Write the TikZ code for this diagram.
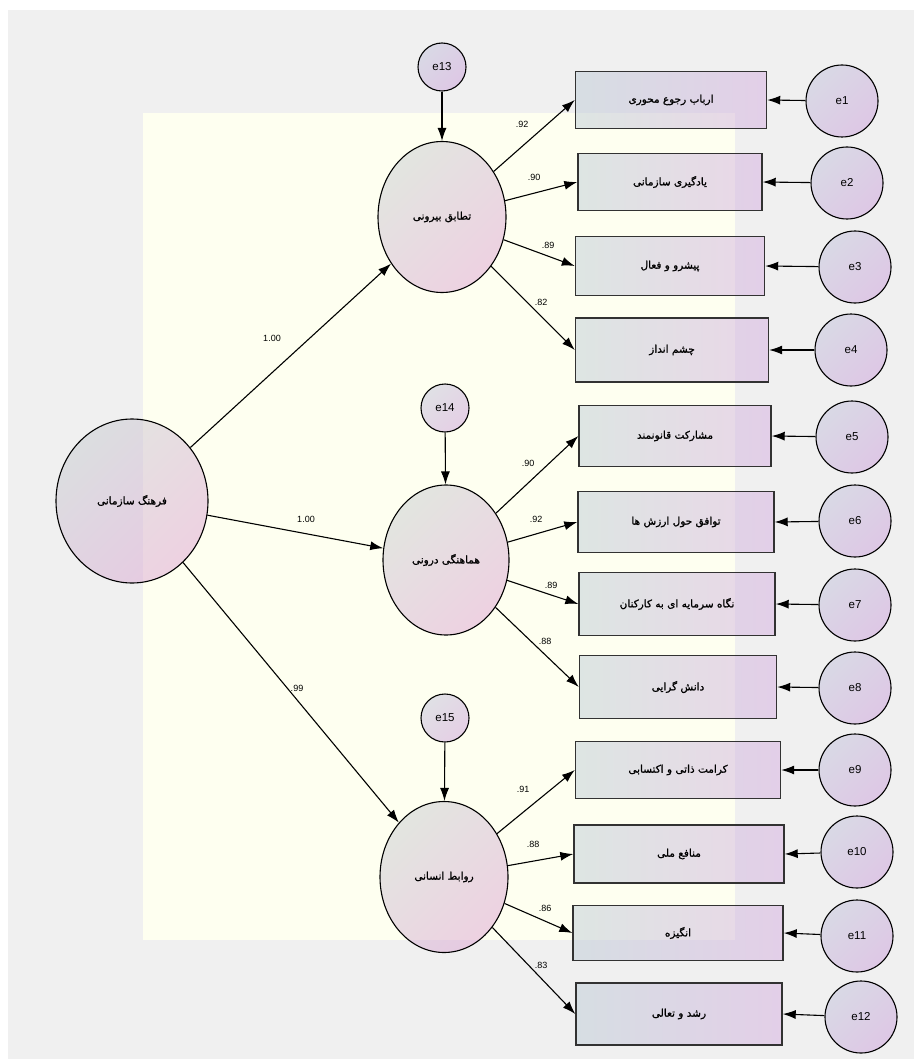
\documentclass[tikz,border=0pt]{standalone}
\usepackage{fontspec}
\setmainfont{Liberation Sans}
\newfontfamily\fafont[Script=Arabic,FakeBold=1.2]{DejaVu Sans}
\TeXXeTstate=1
\usetikzlibrary{arrows.meta,shapes.geometric}
\newcommand{\fatxt}[1]{{\fafont\beginR #1\endR}}
\definecolor{bggray}{RGB}{240,240,240}
\definecolor{paleyellow}{RGB}{254,255,240}
\definecolor{boxleft}{RGB}{190,205,215}
\definecolor{boxright}{RGB}{215,175,225}
\definecolor{ellTL}{RGB}{200,205,210}
\definecolor{ellBR}{RGB}{222,165,212}
\definecolor{errTL}{RGB}{195,195,220}
\definecolor{errBR}{RGB}{205,160,220}
\definecolor{edgegray}{RGB}{50,50,50}
\tikzset{
  obsbox/.style={rectangle, draw=edgegray, line width=1.4pt, inner sep=0pt,
    left color=boxleft, right color=boxright, fill opacity=0.5, text opacity=1,
    font=\fontsize{10.5}{12}\selectfont},
  latent/.style={ellipse, draw=black, line width=1.1pt, inner sep=0pt,
    top color=ellTL, bottom color=ellBR, shading angle=45, fill opacity=0.5, text opacity=1,
    font=\fontsize{10.5}{12}\selectfont},
  errc/.style={circle, draw=black, line width=1.1pt, inner sep=0pt,
    top color=errTL, bottom color=errBR, shading angle=45, fill opacity=0.5, text opacity=1,
    font=\fontsize{11.5}{13}\selectfont},
  arr/.style={-{Latex[length=13pt,width=9pt]}, line width=1.1pt, black},
  coef/.style={font=\fontsize{9}{10}\selectfont, inner sep=1pt}
}
\begin{document}
\begin{tikzpicture}[x=1pt,y=-1pt]
\useasboundingbox (0,0) rectangle (914,1059);
\fill[white] (0,0) rectangle (914,1059);
\fill[bggray] (8,10) rectangle (914,1059);
\fill[paleyellow] (143,113) rectangle (735,940);

% latent variables
\node[latent, minimum width=152pt, minimum height=164pt] (fc) at (132,501) {\fatxt{فرهنگ سازمانی}};
\node[latent, minimum width=128pt, minimum height=151pt] (l1) at (442,217) {\fatxt{تطابق بیرونی}};
\node[latent, minimum width=126pt, minimum height=150pt] (l2) at (446,560) {\fatxt{هماهنگی درونی}};
\node[latent, minimum width=128pt, minimum height=151pt] (l3) at (444,877) {\fatxt{روابط انسانی}};

% disturbance errors
\node[errc, minimum size=48pt] (e13) at (442,67) {e13};
\node[errc, minimum size=48pt] (e14) at (445,408) {e14};
\node[errc, minimum size=48pt] (e15) at (445,718) {e15};

% observed boxes
\node[obsbox, minimum width=191pt, minimum height=57pt] (b1) at (671,100) {\fatxt{ارباب رجوع محوری}};
\node[obsbox, minimum width=184pt, minimum height=57pt] (b2) at (670,182) {\fatxt{یادگیری سازمانی}};
\node[obsbox, minimum width=189pt, minimum height=59pt] (b3) at (670,266) {\fatxt{پیشرو و فعال}};
\node[obsbox, minimum width=193pt, minimum height=64pt] (b4) at (672,350) {\fatxt{چشم انداز}};
\node[obsbox, minimum width=192pt, minimum height=61pt] (b5) at (675,436) {\fatxt{مشارکت قانونمند}};
\node[obsbox, minimum width=196pt, minimum height=61pt] (b6) at (676,522) {\fatxt{توافق حول ارزش ها}};
\node[obsbox, minimum width=196pt, minimum height=63pt] (b7) at (677,604) {\fatxt{نگاه سرمایه ای به کارکنان}};
\node[obsbox, minimum width=197pt, minimum height=63pt] (b8) at (678,687) {\fatxt{دانش گرایی}};
\node[obsbox, minimum width=205pt, minimum height=57pt] (b9) at (678,770) {\fatxt{کرامت ذاتی و اکتسابی}};
\node[obsbox, minimum width=210pt, minimum height=58pt] (b10) at (679,854) {\fatxt{منافع ملی}};
\node[obsbox, minimum width=210pt, minimum height=55pt] (b11) at (678,933) {\fatxt{انگیزه}};
\node[obsbox, minimum width=206pt, minimum height=62pt] (b12) at (679,1014) {\fatxt{رشد و تعالی}};

% measurement errors
\node[errc, minimum size=72pt] (e1) at (842,101) {e1};
\node[errc, minimum size=72pt] (e2) at (847,183) {e2};
\node[errc, minimum size=72pt] (e3) at (855,267) {e3};
\node[errc, minimum size=72pt] (e4) at (851,350) {e4};
\node[errc, minimum size=72pt] (e5) at (852,437) {e5};
\node[errc, minimum size=72pt] (e6) at (855,521) {e6};
\node[errc, minimum size=72pt] (e7) at (855,605) {e7};
\node[errc, minimum size=72pt] (e8) at (855,688) {e8};
\node[errc, minimum size=72pt] (e9) at (855,770) {e9};
\node[errc, minimum size=72pt] (e10) at (857,852) {e10};
\node[errc, minimum size=72pt] (e11) at (857,936) {e11};
\node[errc, minimum size=72pt] (e12) at (861,1017) {e12};

% structural paths
\draw[arr] (fc) -- (l1);
\draw[arr] (fc) -- (l2);
\draw[arr] (fc) -- (l3);
\draw[arr] (e13) -- (l1);
\draw[arr] (e14) -- (l2);
\draw[arr] (e15) -- (l3);

% loadings
\draw[arr] (l1) -- (b1.west);
\draw[arr] (l1) -- (b2.west);
\draw[arr] (l1) -- (b3.west);
\draw[arr] (l1) -- (b4.west);
\draw[arr] (l2) -- (b5.west);
\draw[arr] (l2) -- (b6.west);
\draw[arr] (l2) -- (b7.west);
\draw[arr] (l2) -- (b8.west);
\draw[arr] (l3) -- (b9.west);
\draw[arr] (l3) -- (b10.west);
\draw[arr] (l3) -- (b11.west);
\draw[arr] (l3) -- (b12.west);

% errors to boxes
\foreach \i in {1,...,12} {\draw[arr] (e\i) -- (b\i.east);}

% coefficients
\node[coef] (c1) at (272,338) {1.00};
\node[coef] (c2) at (306,519) {1.00};
\node[coef] (c3) at (297,688) {.99};
\node[coef] (k1) at (522,124) {.92};
\node[coef] (k2) at (534,177) {.90};
\node[coef] (k3) at (548,245) {.89};
\node[coef] (k4) at (541,302) {.82};
\node[coef] (k5) at (528,463) {.90};
\node[coef] (k6) at (536,519) {.92};
\node[coef] (k7) at (551,585) {.89};
\node[coef] (k8) at (545,641) {.88};
\node[coef] (k9) at (523,789) {.91};
\node[coef] (k10) at (533,844) {.88};
\node[coef] (k11) at (545,908) {.86};
\node[coef] (k12) at (541,965) {.83};
\end{tikzpicture}
\end{document}
